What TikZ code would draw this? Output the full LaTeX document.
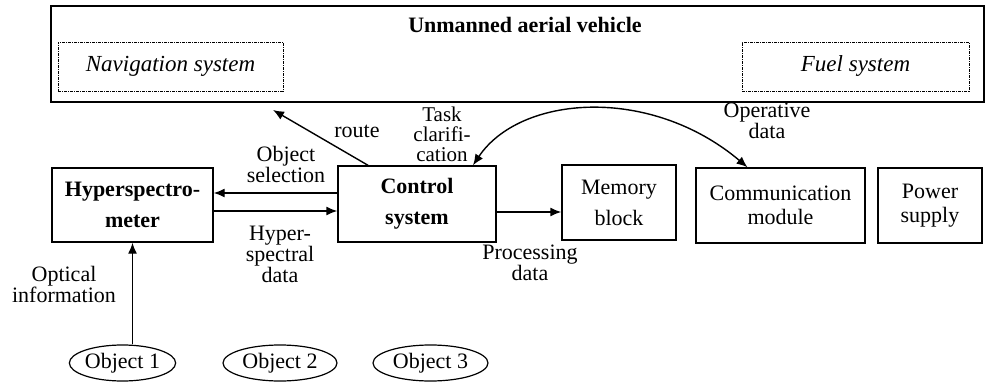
\documentclass[tikz,border=0pt]{standalone}
\usepackage{fontspec}
\setmainfont{Liberation Serif}
\usetikzlibrary{calc,positioning}
\usetikzlibrary{arrows.meta,shapes.geometric}

\tikzset{
  blk/.style={draw,line width=1.4pt,align=center,inner sep=0pt,font=\fontsize{22}{24}\selectfont},
  tall/.style={font=\fontsize{22}{31}\selectfont},
  talbf/.style={font=\fontsize{22}{31}\selectfont\bfseries},
  subsys/.style={draw,line width=0.9pt,dash pattern=on 3pt off 1pt on 1pt off 1pt,inner sep=0pt,font=\fontsize{23}{24}\selectfont\itshape},
  obj/.style={draw,ellipse,line width=1.2pt,inner sep=0pt,minimum height=36pt,font=\fontsize{22}{24}\selectfont},
  lbl/.style={align=center,inner sep=0pt,font=\fontsize{22}{21}\selectfont},
  flow/.style={line width=1.4pt,-{Latex[length=11pt,width=9pt]}},
}

\begin{document}
\begin{tikzpicture}[x=1pt,y=-1pt]%%%coordinates in pixels, y downwards
\useasboundingbox (0,0) rectangle (988,385);

%%% the vehicle and its subsystems
\node[draw,line width=2pt,minimum width=933pt,minimum height=96pt] (uav) at (517.5,54) {};
\node[font=\fontsize{22}{24}\selectfont\bfseries] (title) at (525,25) {Unmanned aerial vehicle};
\node[subsys,minimum width=225pt,minimum height=49pt] (nav) at (170.5,66.5) {Navigation system};
\node[subsys,minimum width=227pt,minimum height=49pt] (fuel) at (855.5,66.5) {Fuel system};

%%% on-board blocks
\node[blk,talbf,minimum width=161pt,minimum height=74pt] (hyper) at (132.5,205) {Hyperspectro-\\meter};
\node[blk,talbf,minimum width=158pt,minimum height=76pt] (ctrl) at (417,204) {Control\\system};
\node[blk,tall,minimum width=114pt,minimum height=75pt] (mem) at (619,202.5) {Memory\\block};
\node[blk,minimum width=169pt,minimum height=75pt] (comm) at (780.5,205.5) {Communication\\module};
\node[blk,minimum width=104pt,minimum height=75pt] (power) at (930,205.5) {Power\\supply};

%%% objects on the ground
\node[obj,minimum width=92pt] (obj1) at (122.5,363) {Object 1};
\node[obj,minimum width=114pt] (obj2) at (280,363) {Object 2};
\node[obj,minimum width=115pt] (obj3) at (430.5,363) {Object 3};

%%% connectors
\coordinate (rt) at (273,110);
\draw[flow] (hyper.south |- obj1.north) -- (hyper.south);
\draw[flow] ([yshift=11pt]ctrl.west) -- ([yshift=11pt]ctrl.west -| hyper.east);
\draw[flow] ([yshift=-6pt]hyper.east) -- ([yshift=-6pt]hyper.east -| ctrl.west);
\draw[flow] ([yshift=-8pt]ctrl.east) -- ([yshift=-8pt]ctrl.east -| mem.west);
\draw[flow] ([xshift=-49pt]ctrl.north) -- (rt);
\draw[line width=1.4pt,{Latex[length=11pt,width=9pt]}-{Latex[length=11pt,width=9pt]}]
  ([xshift=56pt]ctrl.north) .. controls (520,95) and (650,85) .. ([xshift=-33pt]comm.north);

%%% labels
\node[lbl] (optl) at (64,284) {Optical\\information};
\node[lbl] (sell) at (286,164) {Object\\selection};
\node[lbl] (hypl) at (280,254) {Hyper-\\spectral\\data};
\node[lbl] (rtl) at (357,131) {route};
\node[lbl,font=\fontsize{21}{20}\selectfont] (taskl) at (442,134) {Task\\clarifi-\\cation};
\node[lbl,font=\fontsize{22}{19}\selectfont] (opl) at (767,121) {Operative\\data};
\node[lbl] (procl) at (530,263) {Processing\\data};

\end{tikzpicture}
\end{document}
